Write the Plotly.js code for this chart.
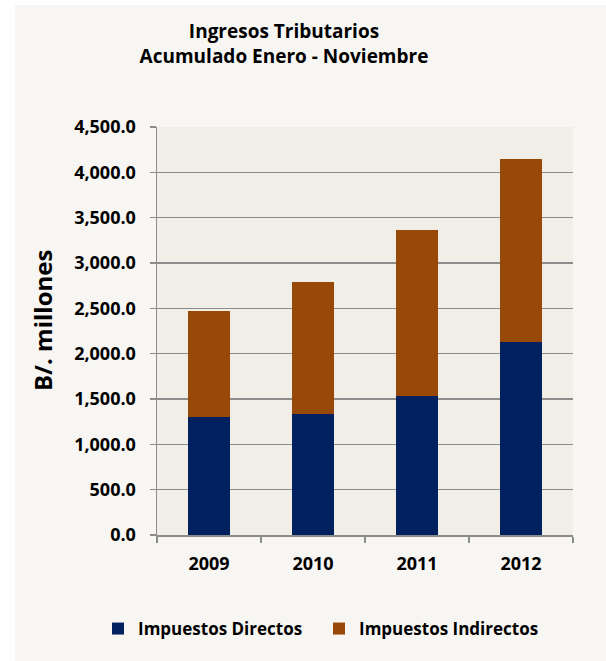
<!DOCTYPE html>
<html>
<head>
<meta charset="utf-8">
<script src="https://cdn.plot.ly/plotly-3.0.1.min.js"></script>
<style>html,body{margin:0;padding:0;background:#fff;}#chart{width:606px;height:661px;}</style>
</head>
<body>
<div id="chart"></div>
<script>
var years = ['2009', '2010', '2011', '2012'];
var directos = [1297, 1337, 1532, 2124];
var indirectos = [1172, 1448, 1829, 2020];
var yTicks = [0, 500, 1000, 1500, 2000, 2500, 3000, 3500, 4000, 4500];
var yTickText = ['0.0', '500.0', '1,000.0', '1,500.0', '2,000.0', '2,500.0', '3,000.0', '3,500.0', '4,000.0', '4,500.0'];
var seriesNames = ['Impuestos Directos', 'Impuestos Indirectos'];

var FONT = '"Open Sans", sans-serif';

var traces = [
  {type: 'bar', name: seriesNames[0], x: years, y: directos, marker: {color: '#002060'}, legend: 'legend'},
  {type: 'bar', name: seriesNames[1], x: years, y: indirectos, marker: {color: '#984807'}, legend: 'legend2'}
];

var W = 416, H = 408, L = 157, T = 127;
function px(x) { return (x - L) / W; }
function py(y) { return (T + H - y) / H; }

function legendAt(xPix) {
  return {orientation: 'h', xref: 'container', yref: 'container',
          x: xPix / 606, xanchor: 'left', y: 1 - 629 / 661, yanchor: 'middle',
          font: {family: FONT, size: 17, color: '#000', weight: 'bold'},
          bgcolor: 'rgba(0,0,0,0)'};
}

var layout = {
  width: 606, height: 661,
  margin: {l: L, r: 606 - L - W, t: T, b: 661 - T - H, pad: 0, autoexpand: false},
  paper_bgcolor: '#ffffff',
  plot_bgcolor: '#f0eee7',
  barmode: 'stack',
  bargap: 0.6,
  showlegend: true,
  font: {family: FONT, color: '#000', size: 13},
  title: {text: 'Ingresos Tributarios<br>Acumulado Enero - Noviembre',
          font: {family: FONT, size: 19, color: '#000', weight: 'bold'},
          x: px(284), xref: 'paper', xanchor: 'center', y: 1 - 38/661, yanchor: 'middle'},
  xaxis: {
    type: 'category', showgrid: false, showline: true, linecolor: '#8c8c8c', linewidth: 1.5,
    ticks: 'outside', tickson: 'boundaries', ticklen: 6, tickcolor: '#8c8c8c', tickwidth: 1.5,
    tickfont: {family: FONT, size: 18, color: '#000', weight: 'bold'}, ticklabelstandoff: 12,
    fixedrange: true
  },
  yaxis: {
    range: [0, 4500], tickvals: yTicks, ticktext: yTickText,
    showgrid: true, gridcolor: '#8c8c8c', gridwidth: 1.5, zeroline: false,
    showline: true, linecolor: '#8c8c8c', linewidth: 1.5,
    ticks: 'outside', ticklen: 6, tickcolor: '#8c8c8c', tickwidth: 1.5,
    tickfont: {family: FONT, size: 18, color: '#000', weight: 'bold'}, ticklabelstandoff: 10,
    fixedrange: true
  },
  legend: legendAt(98),
  legend2: legendAt(319),
  annotations: [{text: 'B/. millones', textangle: -90, xref: 'paper', yref: 'paper',
                 x: px(42), y: py(321), xanchor: 'center', yanchor: 'middle', showarrow: false,
                 font: {family: FONT, size: 24, color: '#000', weight: 'bold'}}],
  shapes: [{type: 'rect', xref: 'paper', yref: 'paper', layer: 'below',
            x0: px(15), x1: px(606), y0: py(661), y1: py(5),
            fillcolor: '#f7f6f2', line: {width: 0}},
           {type: 'rect', xref: 'paper', yref: 'paper', layer: 'below',
            x0: 0, x1: 1, y0: 0, y1: 1, fillcolor: '#f0eee7', line: {width: 0}}]
};

Plotly.newPlot('chart', traces, layout, {displayModeBar: false, staticPlot: true});
</script>
</body>
</html>
